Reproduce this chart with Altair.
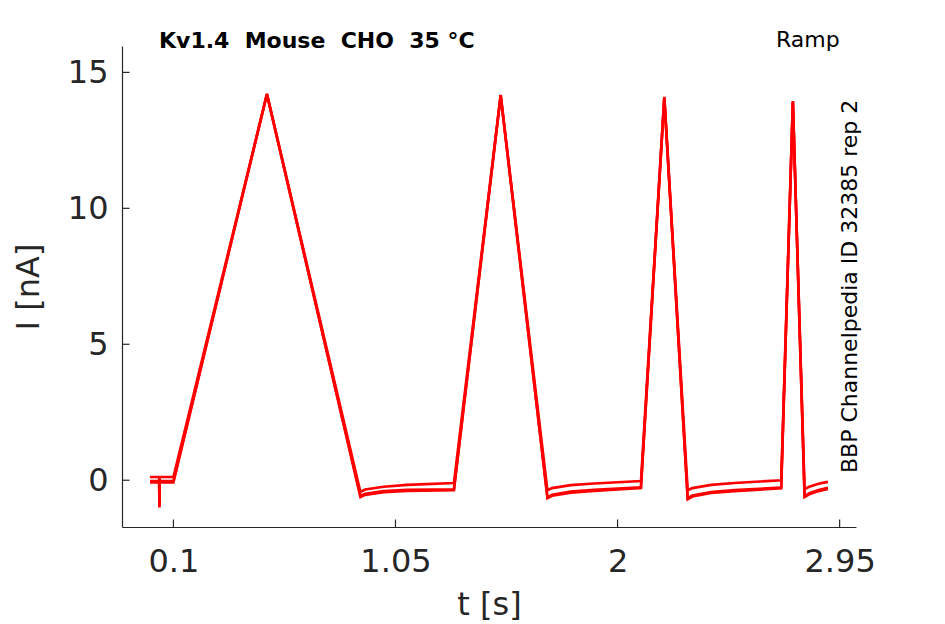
import altair as alt
import pandas as pd

# ---- data ----
T = [0.0, 0.039, 0.04, 0.041, 0.1, 0.5, 0.9, 0.92, 1.0, 1.1, 1.3, 1.5, 1.7, 1.72, 1.8, 1.9,
     2.1, 2.2, 2.3, 2.32, 2.4, 2.5, 2.7, 2.75, 2.8, 2.82, 2.86, 2.9]
I_A = [0.12, 0.12, -0.95, 0.12, 0.12, 14.2, -0.43, -0.34, -0.24, -0.17, -0.1, 14.17, -0.37, -0.29, -0.18, -0.12,
       -0.03, 14.1, -0.37, -0.29, -0.17, -0.1, 0.0, 13.95, -0.33, -0.24, -0.13, -0.06]
I_B = [-0.08, -0.08, -1.0, -0.08, -0.08, 14.2, -0.62, -0.54, -0.44, -0.39, -0.37, 14.15, -0.66, -0.57, -0.46, -0.39,
       -0.29, 14.07, -0.7, -0.6, -0.47, -0.4, -0.3, 13.92, -0.62, -0.52, -0.4, -0.32]
I_C = [-0.03, -0.03, -0.97, -0.03, -0.03, 14.2, -0.58, -0.5, -0.4, -0.35, -0.33, 14.15, -0.62, -0.53, -0.42, -0.35,
       -0.26, 14.07, -0.66, -0.56, -0.43, -0.36, -0.27, 13.92, -0.58, -0.48, -0.36, -0.28]
X_TICKS = [0.1, 1.05, 2, 2.95]
Y_TICKS = [0, 5, 10, 15]
TITLE = "Kv1.4  Mouse  CHO  35 °C"
PROTOCOL = "Ramp"
SOURCE = "BBP Channelpedia ID 32385 rep 2"

rows = []
for name, vals in (("A", I_A), ("B", I_B), ("C", I_C)):
    for i, (t, v) in enumerate(zip(T, vals)):
        rows.append({"trace": name, "i": i, "t": t, "I": v})
df = pd.DataFrame(rows)

W, H = 734, 481
FONT = "DejaVu Sans"
INK = "#262626"

xs = alt.Scale(domain=[-0.12, 3.02], nice=False, zero=False)
ys = alt.Scale(domain=[-1.72, 15.97], nice=False, zero=False)

lines = alt.Chart(df).mark_line(color="#ff0000", strokeWidth=2.6, clip=True).encode(
    x=alt.X("t:Q", scale=xs,
            axis=alt.Axis(values=X_TICKS, format=".3~g", title="t [s]", labelPadding=19, titlePadding=12,
                          labelFlush=False, labelOverlap=False)),
    y=alt.Y("I:Q", scale=ys,
            axis=alt.Axis(values=Y_TICKS, title="I [nA]", labelPadding=14, titlePadding=22)),
    detail="trace:N",
    order="i:Q",
)

xt = alt.Chart(pd.DataFrame({"v": X_TICKS})).mark_rule(color=INK, strokeWidth=1.2).encode(
    x=alt.X("v:Q", scale=xs), y=alt.value(H), y2=alt.value(H - 7.5))
yt = alt.Chart(pd.DataFrame({"v": Y_TICKS})).mark_rule(color=INK, strokeWidth=1.2).encode(
    y=alt.Y("v:Q", scale=ys), x=alt.value(0), x2=alt.value(7.5))

title = alt.Chart(pd.DataFrame({"s": [TITLE.replace("  ", " \u00a0")]})).mark_text(
    font=FONT, fontSize=22, fontWeight="bold", color="#000000", align="left", baseline="alphabetic"
).encode(text="s:N", x=alt.value(37), y=alt.value(2))
proto = alt.Chart(pd.DataFrame({"s": [PROTOCOL]})).mark_text(
    font=FONT, fontSize=22, color="#000000", align="left", baseline="alphabetic"
).encode(text="s:N", x=alt.value(654), y=alt.value(1))
src = alt.Chart(pd.DataFrame({"s": [SOURCE]})).mark_text(
    font=FONT, fontSize=22, color="#000000", align="left", baseline="alphabetic", angle=270
).encode(text="s:N", x=alt.value(735), y=alt.value(427))

chart = alt.layer(lines, xt, yt, title, proto, src).properties(
    width=W, height=H,
    autosize=alt.AutoSizeParams(type="none"),
    padding={"left": 114, "top": 38, "right": 60, "bottom": 95},
    background="white",
).configure_view(stroke=None).configure_axis(
    labelFont=FONT, titleFont=FONT, labelFontSize=32, titleFontSize=32,
    titleFontWeight="normal", labelColor=INK, titleColor=INK,
    domainColor=INK, domainWidth=1.2, tickSize=0, grid=False,
)

chart.save("out.html", embed_options={"renderer": "svg", "actions": False})
